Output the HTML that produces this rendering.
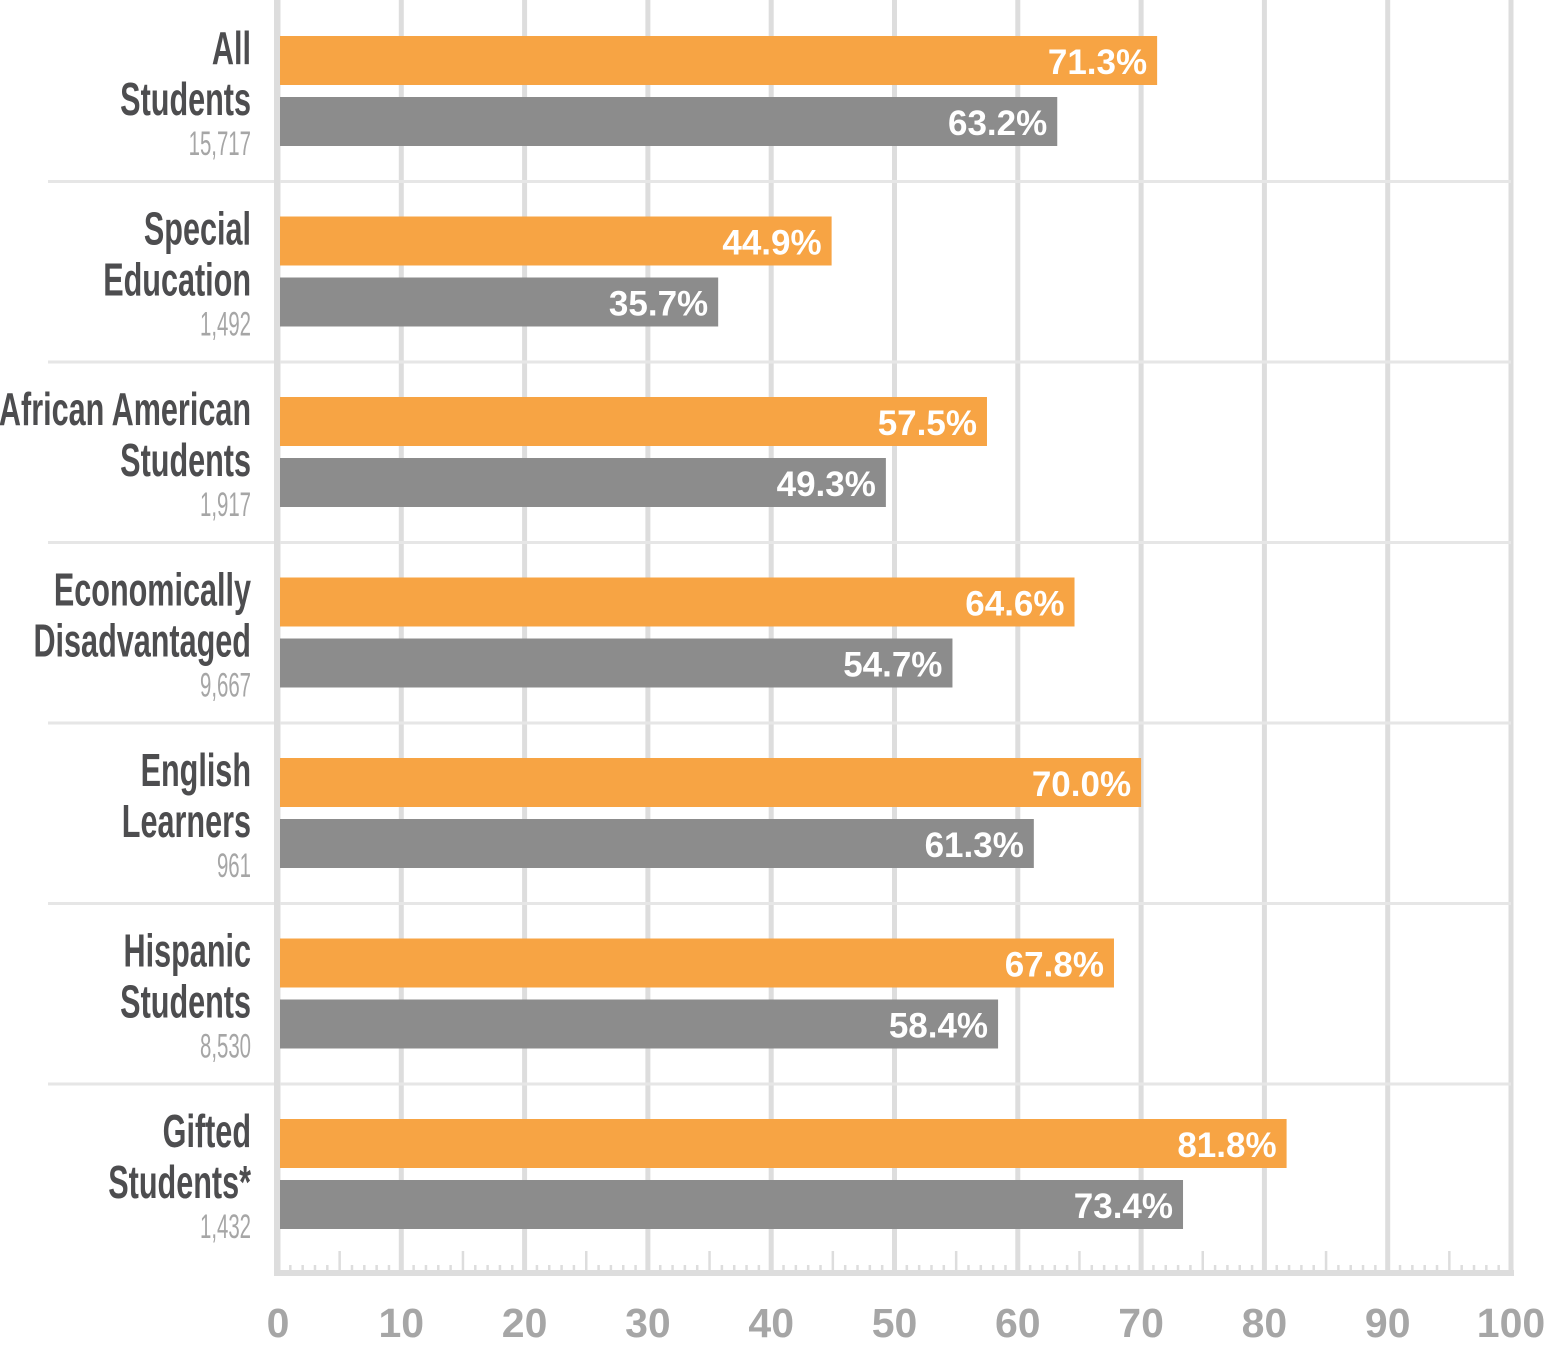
<!DOCTYPE html>
<html><head><meta charset="utf-8"><style>
html,body{margin:0;padding:0;background:#fff}
svg{display:block}
</style></head><body>
<svg id="chart" width="1547" height="1350" viewBox="0 0 1547 1350" xmlns="http://www.w3.org/2000/svg"></svg>
<script>
const categories=[["All","Students"],["Special","Education"],["African American","Students"],["Economically","Disadvantaged"],["English","Learners"],["Hispanic","Students"],["Gifted","Students*"]];
const counts=["15,717","1,492","1,917","9,667","961","8,530","1,432"];
const seriesOrange=[71.3,44.9,57.5,64.6,70.0,67.8,81.8];
const seriesGray=[63.2,35.7,49.3,54.7,61.3,58.4,73.4];
const tickLabels=["0","10","20","30","40","50","60","70","80","90","100"];

const svg=document.getElementById('chart');
const NS='http://www.w3.org/2000/svg';
const x0=278,x1=1511,axisY=1273,groupTop=36,pitch=180.5;
const xs=v=>x0+(x1-x0)*v/100;
function mk(tag,attrs,parent){const e=document.createElementNS(NS,tag);for(const k in attrs)e.setAttribute(k,attrs[k]);(parent||svg).appendChild(e);return e;}

tickLabels.forEach((t,i)=>{
  const v=i*10;
  const g=mk('line',{x1:xs(v),x2:xs(v),y1:0,y2:axisY,stroke:'#dddddd','stroke-width':5});
  
  
  const tl=mk('text',{x:xs(v),y:1337,'text-anchor':'middle','font-family':'Liberation Sans, sans-serif','font-weight':'bold','font-size':41,fill:'#a6a6a6'});
  tl.textContent=t;
  
  
});
for(let v=1;v<100;v++){
  if(v%10===0)continue;
  const h=v%5===0?22:8;
  const m=mk('line',{x1:xs(v),x2:xs(v),y1:axisY-h,y2:axisY,stroke:'#dddddd','stroke-width':2.5});
  
  
}
for(let i=1;i<categories.length;i++){
  const y=groupTop+pitch*i-35;
  const s=mk('line',{x1:48,x2:x1,y1:y,y2:y,stroke:'#e6e6e6','stroke-width':3});
  
  
}
const ax=mk('line',{x1:x0-1,x2:x0-1,y1:0,y2:axisY+3,stroke:'#dddddd','stroke-width':6});


const bx=mk('line',{x1:x0-4,x2:x1+3,y1:axisY,y2:axisY,stroke:'#dddddd','stroke-width':6});



const sxName=0.665, sxCount=0.6;
categories.forEach((c,i)=>{
  const gy=groupTop+pitch*i;
  [[seriesOrange[i],'#f7a444',0,'orange'],[seriesGray[i],'#8c8c8c',61,'gray']].forEach(([v,col,off,nm])=>{
    const r=mk('rect',{x:x0+2,y:gy+off,width:xs(v)-x0-2,height:49,fill:col});
    
    
    const t=mk('text',{x:xs(v)-10,y:gy+off+38,'text-anchor':'end','font-family':'Liberation Sans, sans-serif','font-weight':'bold','font-size':35,fill:'#ffffff'});
    t.textContent=v.toFixed(1)+'%';
    
    
  });
  const g=mk('g',{transform:'scale('+sxName+',1)'});
  
  
  [[c[0],28],[c[1],79]].forEach(([txt,dy])=>{
    const t=mk('text',{x:251/sxName,y:gy+dy,'text-anchor':'end','font-family':'Liberation Sans, sans-serif','font-weight':'bold','font-size':46,fill:'#4d4d4f'},g);
    t.textContent=txt;
    
    
  });
  const g2=mk('g',{transform:'scale('+sxCount+',1)'});
  
  
  const ct=mk('text',{x:251/sxCount,y:gy+119,'text-anchor':'end','font-family':'Liberation Sans, sans-serif','font-size':34,fill:'#a6a6a6'},g2);
  ct.textContent=counts[i];
  
  
});
</script>
</body></html>
